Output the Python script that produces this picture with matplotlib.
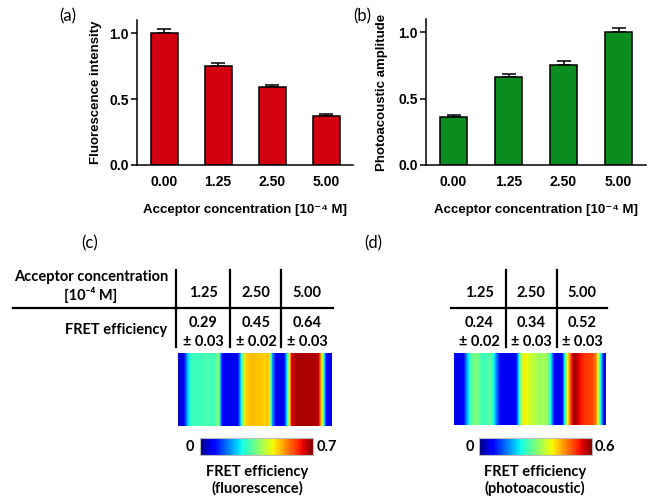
import numpy as np
import matplotlib.pyplot as plt
from matplotlib.lines import Line2D

W, H = 650, 498

# bar charts (a), (b)
conc = ['0.00', '1.25', '2.50', '5.00']
fluor = [1.00, 0.75, 0.59, 0.37]
fluor_err = [0.035, 0.025, 0.02, 0.015]
pa = [0.36, 0.66, 0.757, 1.00]
pa_err = [0.015, 0.025, 0.03, 0.035]

# tables (c), (d)
tab_conc = ['1.25', '2.50', '5.00']
fret_fl = [0.29, 0.45, 0.64]
fret_fl_err = [0.03, 0.02, 0.03]
fret_pa = [0.24, 0.34, 0.52]
fret_pa_err = [0.02, 0.03, 0.03]

# FRET maps, values read across the width of each image
map_fl = [0.05, 0.08, 0.22, 0.30, 0.30, 0.29, 0.30, 0.31, 0.30, 0.30,
          0.36, 0.08, 0.07, 0.07, 0.07, 0.07, 0.28, 0.48, 0.49, 0.50,
          0.49, 0.49, 0.48, 0.49, 0.20, 0.07, 0.07, 0.07, 0.30, 0.64,
          0.67, 0.68, 0.67, 0.67, 0.67, 0.67, 0.66, 0.42, 0.08, 0.07]
map_pa = [0.06, 0.06, 0.07, 0.18, 0.27, 0.30, 0.29, 0.25, 0.26, 0.28,
          0.22, 0.12, 0.06, 0.06, 0.06, 0.06, 0.10, 0.30, 0.40, 0.37,
          0.35, 0.34, 0.32, 0.33, 0.32, 0.22, 0.06, 0.06, 0.08, 0.32,
          0.47, 0.59, 0.56, 0.53, 0.51, 0.51, 0.50, 0.45, 0.25, 0.06]
fl_max = 0.7
pa_max = 0.6

plt.rcParams['font.family'] = ['Liberation Sans', 'DejaVu Sans']
plt.rcParams['font.weight'] = 'bold'
cal = ['Lato', 'DejaVu Sans']


def rect(x0, y0, x1, y1):
    return [x0 / W, 1 - y1 / H, (x1 - x0) / W, (y1 - y0) / H]


fig = plt.figure(figsize=(6.5, 4.98), dpi=100)


def bar_panel(box, vals, errs, color, ylabel, ylab_x):
    ax = fig.add_axes(rect(*box))
    x = np.arange(len(conc))
    ax.bar(x, vals, width=0.5, color=color, edgecolor='black', linewidth=1.1, zorder=2)
    ax.errorbar(x, vals, yerr=[np.zeros(len(vals)), errs], fmt='none', ecolor='black',
                elinewidth=1.1, capsize=5, capthick=1.1, zorder=1)
    ax.set_xlim(-0.5, 3.5)
    ax.set_ylim(0, 1.1)
    ax.set_xticks(x)
    ax.set_xticklabels(conc, fontsize=10, fontweight='bold')
    ax.set_yticks([0, 0.5, 1.0])
    ax.set_yticklabels(['0.0', '0.5', '1.0'], fontsize=10, fontweight='bold')
    ax.tick_params(axis='x', length=0, pad=7)
    ax.tick_params(axis='y', length=4, width=1.1, pad=2)
    for s in ['top', 'right']:
        ax.spines[s].set_visible(False)
    for s in ['left', 'bottom']:
        ax.spines[s].set_linewidth(1.1)
    ax.set_ylabel(ylabel, fontsize=9.5, fontweight='bold')
    ax.yaxis.set_label_coords(ylab_x, 0.5)
    ax.set_xlabel('Acceptor concentration [10\u207b\u2074 M]', fontsize=9.5, fontweight='bold')
    ax.xaxis.set_label_coords(0.5, -0.27)
    return ax


bar_panel((137, 20, 353, 165), fluor, fluor_err, '#d2000e', 'Fluorescence intensity', -0.16)
bar_panel((426, 19, 646, 165), pa, pa_err, '#0b8c1e', 'Photoacoustic amplitude', -0.175)


def fret_map(box, cbox, prof, vmax):
    ax = fig.add_axes(rect(*box))
    img = np.tile(np.array(prof), (6, 1))
    im = ax.imshow(img, cmap='jet', vmin=0, vmax=vmax, aspect='auto', interpolation='bilinear')
    ax.axis('off')
    cax = fig.add_axes(rect(*cbox))
    cb = fig.colorbar(im, cax=cax, orientation='horizontal')
    cb.set_ticks([])
    cb.outline.set_edgecolor('#bbbbbb')
    cb.outline.set_linewidth(0.8)


fret_map((178, 353, 332, 426), (200, 438, 313, 455), map_fl, fl_max)
fret_map((454, 353, 606, 425), (479, 438, 592, 455), map_pa, pa_max)

# overlay in pixel coordinates for tables and labels
ov = fig.add_axes([0, 0, 1, 1])
ov.set_xlim(0, W)
ov.set_ylim(H, 0)
ov.axis('off')

tk = dict(family=cal, fontsize=10.5, fontweight='bold', ha='center', va='center')
for lab, x, y in [('(a)', 68, 16), ('(b)', 362, 16), ('(c)', 90, 243), ('(d)', 373, 243)]:
    ov.text(x, y, lab, family=cal, fontsize=12, fontweight='normal', ha='center', va='center')


def table(cols, vals, errs, vlines, hx):
    for lab, x, v, e in zip(tab_conc, cols, vals, errs):
        ov.text(x, 293, lab, **tk)
        ov.text(x, 323, f'{v:.2f}', **tk)
        ov.text(x, 342, f'\u00b1 {e:.2f}', **tk)
    for x in vlines:
        ov.add_line(Line2D([x, x], [270, 347], color='black', lw=1.6))
    ov.add_line(Line2D(hx, [308, 308], color='black', lw=1.6))


table([203, 256, 307], fret_fl, fret_fl_err, [176, 230, 281], [13, 333])
table([479, 531, 582], fret_pa, fret_pa_err, [506, 557], [451, 607])

ov.text(91, 277, 'Acceptor concentration', **tk)
ov.text(91, 295, '[10\u207b\u2074 M]', **tk)
ov.text(167, 330, 'FRET efficiency', **dict(tk, ha='right'))

ov.text(190, 447, '0', **tk)
ov.text(327, 447, f'{fl_max:.1f}', **tk)
ov.text(257, 472, 'FRET efficiency', **tk)
ov.text(257, 488, '(fluorescence)', **tk)
ov.text(470, 447, '0', **tk)
ov.text(605, 447, f'{pa_max:.1f}', **tk)
ov.text(535, 472, 'FRET efficiency', **tk)
ov.text(535, 488, '(photoacoustic)', **tk)

fig.savefig('out.png', dpi=100)
